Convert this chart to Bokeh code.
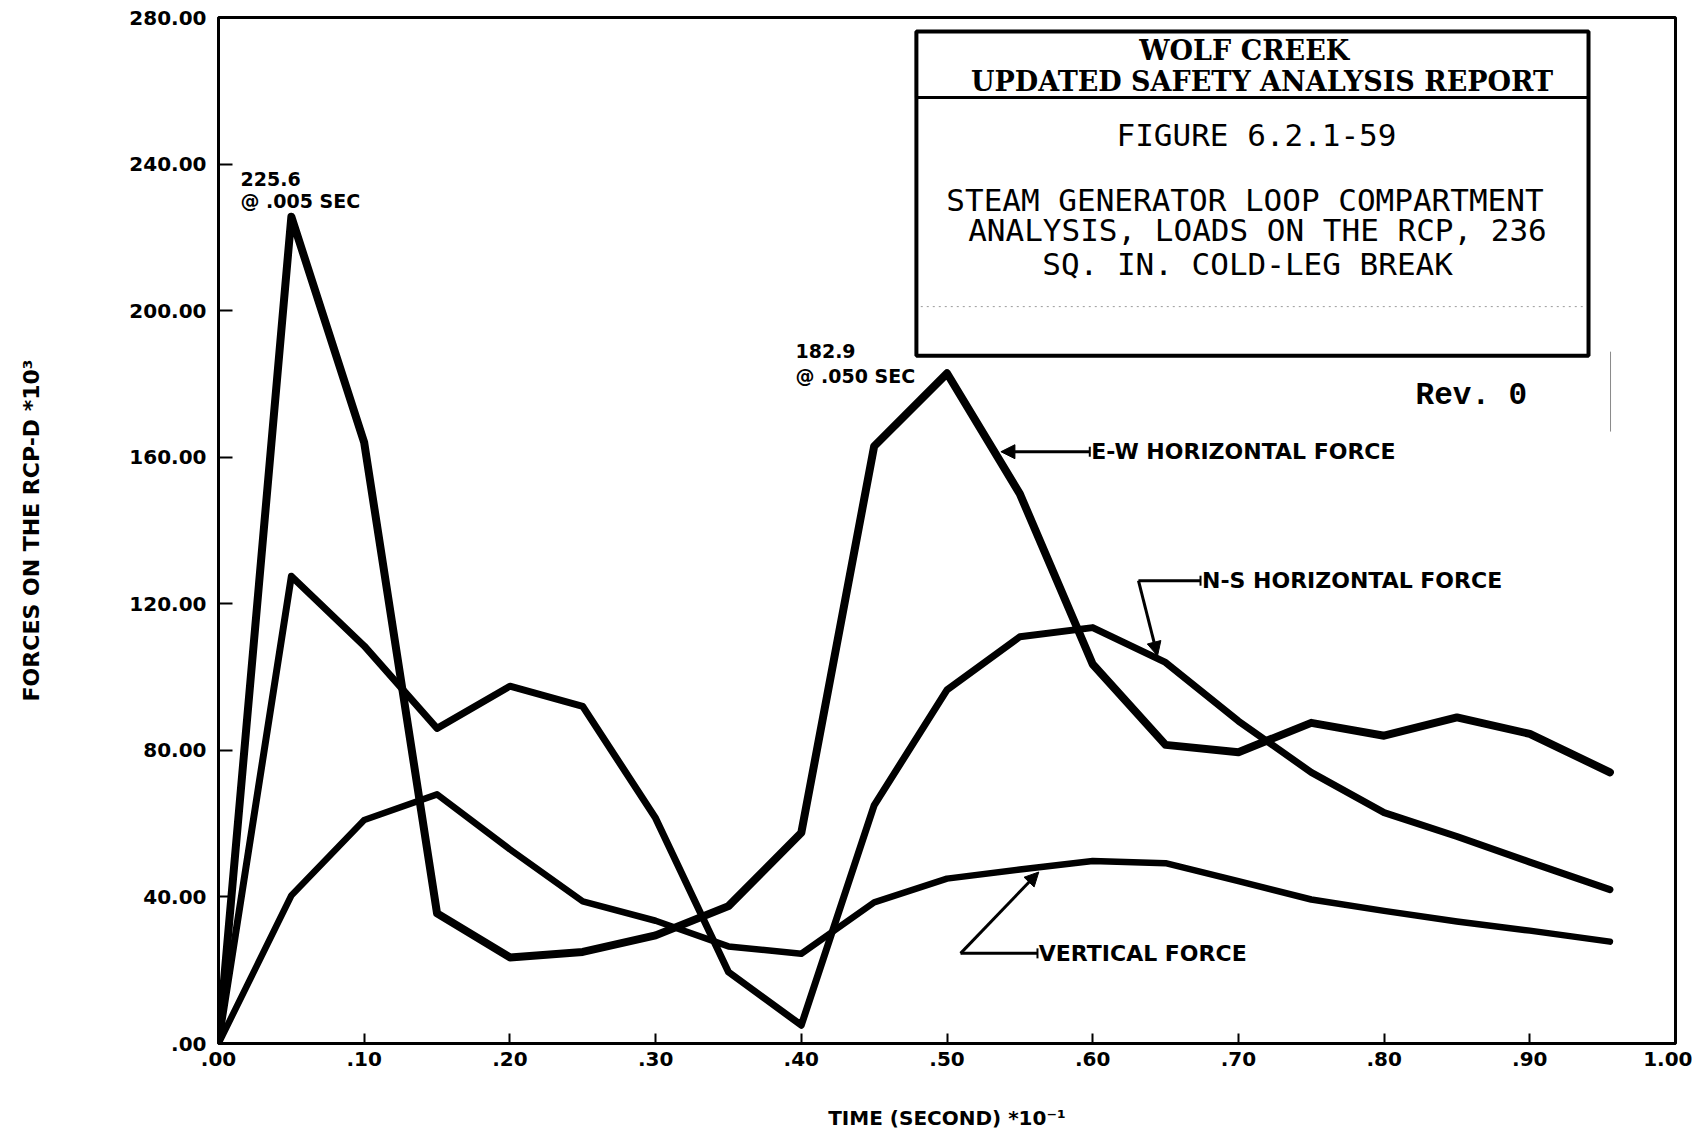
from bokeh.plotting import figure
from bokeh.models import (Label, Arrow, NormalHead, TeeHead, BoxAnnotation,
                          FixedTicker, Range1d, ColumnDataSource)
from bokeh.embed import file_html
from bokeh.resources import INLINE

# ---------------- data (time in seconds * 10^-1, force * 10^3) ----------------
time = [0.00, 0.05, 0.10, 0.15, 0.20, 0.25, 0.30, 0.35, 0.40, 0.45,
        0.50, 0.55, 0.60, 0.65, 0.70, 0.75, 0.80, 0.85, 0.90, 0.955]
ew_force = [0.0, 225.6, 164.0, 35.5, 23.5, 25.0, 29.5, 37.5, 57.5, 163.0,
            182.9, 150.0, 103.5, 81.5, 79.5, 87.5, 84.0, 89.0, 84.5, 74.0]
ns_force = [0.0, 127.5, 108.5, 86.0, 97.5, 92.0, 61.5, 19.5, 5.0, 65.0,
            96.5, 111.0, 113.5, 104.0, 88.0, 74.0, 63.0, 56.5, 49.5, 42.0]
vert_force = [0.0, 40.4, 61.0, 68.0, 53.0, 38.8, 33.5, 26.5, 24.5, 38.5,
              45.0, 47.5, 49.8, 49.2, 44.3, 39.3, 36.2, 33.3, 30.8, 27.8]

x_ticks = [0.0, 0.1, 0.2, 0.3, 0.4, 0.5, 0.6, 0.7, 0.8, 0.9, 1.0]
x_tick_labels = [".00", ".10", ".20", ".30", ".40", ".50", ".60", ".70", ".80", ".90", "1.00"]
y_ticks = [0, 40, 80, 120, 160, 200, 240, 280]
y_tick_labels = [".00", "40.00", "80.00", "120.00", "160.00", "200.00", "240.00", "280.00"]

x_label = "TIME (SECOND) *10\u207b\u00b9"
y_label = "FORCES ON THE RCP-D *10\u00b3"

title_lines = ["WOLF CREEK", "UPDATED SAFETY ANALYSIS REPORT"]
figure_lines = ["FIGURE 6.2.1-59", "STEAM GENERATOR LOOP COMPARTMENT",
                "ANALYSIS, LOADS ON THE RCP, 236", "SQ. IN. COLD-LEG BREAK"]
rev_text = "Rev. 0"
peak1 = ["225.6", "@ .005 SEC"]
peak2 = ["182.9", "@ .050 SEC"]
ew_name = "E-W HORIZONTAL FORCE"
ns_name = "N-S HORIZONTAL FORCE"
v_name = "VERTICAL FORCE"

# ---------------- figure ----------------
SANS = "DejaVu Sans"
p = figure(width=1692, height=1135, x_range=Range1d(0, 1), y_range=Range1d(0, 280),
           output_backend="svg", toolbar_location=None,
           min_border_left=218, min_border_right=17, min_border_top=17, min_border_bottom=92)
p.background_fill_color = "white"
p.border_fill_color = "white"
p.xgrid.visible = False
p.ygrid.visible = False
p.outline_line_color = "black"
p.outline_line_width = 3
p.outline_line_alpha = 1.0

p.xaxis.ticker = FixedTicker(ticks=x_ticks)
p.xaxis.major_label_overrides = dict(zip(x_ticks, x_tick_labels))
p.yaxis.ticker = FixedTicker(ticks=y_ticks)
p.yaxis.major_label_overrides = dict(zip(y_ticks, y_tick_labels))

for ax in (p.xaxis, p.yaxis):
    ax.axis_line_width = 3
    ax.axis_line_color = "black"
    ax.major_tick_out = 0
    ax.major_tick_line_width = 2
    ax.major_tick_line_color = "black"
    ax.minor_tick_line_color = None
    ax.major_label_text_font = SANS
    ax.major_label_text_font_style = "bold"
    ax.major_label_text_font_size = "20px"
    ax.major_label_text_color = "black"
    ax.axis_label_text_font = SANS
    ax.axis_label_text_font_style = "bold"
    ax.axis_label_text_color = "black"

p.xaxis.major_tick_in = 10
p.yaxis.major_tick_in = 14
p.xaxis.major_label_standoff = 8
p.yaxis.major_label_standoff = 12
p.xaxis.axis_label = x_label
p.yaxis.axis_label = y_label
p.xaxis.axis_label_text_font_size = "20px"
p.yaxis.axis_label_text_font_size = "22px"
p.xaxis.axis_label_standoff = 37
p.yaxis.axis_label_standoff = 82

src = ColumnDataSource(dict(t=time, ew=ew_force, ns=ns_force, v=vert_force))
p.line("t", "ew", source=src, line_width=8, line_color="black", line_join="round", line_cap="round")
p.line("t", "ns", source=src, line_width=7, line_color="black", line_join="round", line_cap="round")
p.line("t", "v", source=src, line_width=6.5, line_color="black", line_join="round", line_cap="round")

def lab(x, y, text, size, font=SANS, style="bold", align="left"):
    p.add_layout(Label(x=x, y=y, text=text, text_font=font, text_font_size=size,
                       text_font_style=style, text_color="black",
                       text_align=align, text_baseline="middle"))

# peak annotations
lab(0.0151, 235.8, peak1[0], "19px")
lab(0.0151, 229.9, peak1[1], "19px")
lab(0.396, 189.0, peak2[0], "19px")
lab(0.396, 182.3, peak2[1], "19px")

# series labels with leaders
lab(0.599, 161.5, ew_name, "22px")
lab(0.675, 126.3, ns_name, "22px")
lab(0.563, 24.6, v_name, "22px")

def leader(x0, y0, x1, y1, head=True, tee=False):
    p.add_layout(Arrow(x_start=x0, y_start=y0, x_end=x1, y_end=y1,
                       line_width=3, line_color="black",
                       start=TeeHead(size=10, line_width=2, line_color="black") if tee else None,
                       end=NormalHead(size=14, fill_color="black", line_color="black") if head else None))

leader(0.598, 161.5, 0.537, 161.5, head=True, tee=True)
leader(0.674, 126.3, 0.6314, 126.3, head=False, tee=True)
leader(0.6314, 126.3, 0.6445, 105.8, head=True)
leader(0.5621, 24.6, 0.5093, 24.6, head=False, tee=True)
leader(0.5093, 24.6, 0.563, 46.8, head=True)

# title block
p.add_layout(BoxAnnotation(left=0.479, right=0.9403, bottom=187.7, top=276.2,
                           fill_alpha=0, line_color="black", line_alpha=1.0, line_width=4))
p.add_layout(BoxAnnotation(left=0.479, right=0.9403, bottom=258.2, top=276.2,
                           fill_alpha=0, line_color="black", line_alpha=1.0, line_width=3))
p.add_layout(Arrow(x_start=0.482, y_start=201.1, x_end=0.9375, y_end=201.1,
                   line_width=1, line_color="#9a9a9a", line_dash="2 4", end=None))
p.add_layout(Arrow(x_start=0.9554, y_start=188.8, x_end=0.9554, y_end=167.0,
                   line_width=1, line_color="#8a8a8a", end=None))

SERIF = "DejaVu Serif"
MONO = "DejaVu Sans Mono"
lab(0.704, 270.9, title_lines[0], "27px", font=SERIF, align="center")
lab(0.7162, 262.6, title_lines[1], "27px", font=SERIF, align="center")
lab(0.7124, 247.8, figure_lines[0], "31px", font=MONO, style="normal", align="center")
lab(0.7045, 230.3, figure_lines[1], "31px", font=MONO, style="normal", align="center")
lab(0.7131, 221.9, figure_lines[2], "31px", font=MONO, style="normal", align="center")
lab(0.7063, 212.6, figure_lines[3], "31px", font=MONO, style="normal", align="center")
lab(0.8216, 176.8, rev_text, "31px", font="Liberation Mono", style="bold")

open("out.html", "w").write(file_html(p, INLINE))
